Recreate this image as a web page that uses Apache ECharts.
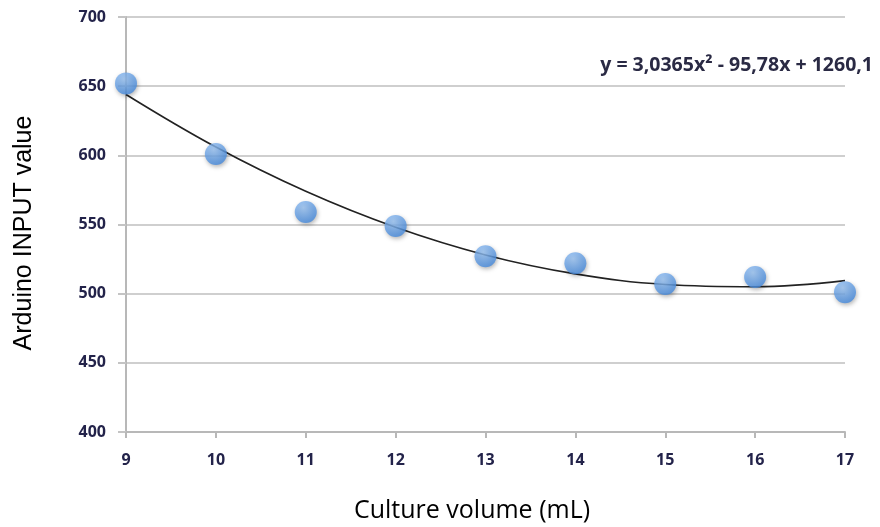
<!DOCTYPE html>
<html>
<head>
<meta charset="utf-8">
<script src="https://cdn.jsdelivr.net/npm/echarts@6/dist/echarts.min.js"></script>
<style>html,body{margin:0;padding:0;background:#fff;}#c{width:880px;height:527px;}</style>
</head>
<body>
<div id="c"></div>
<script>
var volumes = [9, 10, 11, 12, 13, 14, 15, 16, 17];
var readings = [652, 601, 559, 549, 527, 522, 507, 512, 501];
var trendValues = [644, 606, 574, 548, 528, 514.3, 506.6, 505, 509.4];
var equationText = 'y = 3,0365x\u00B2 - 95,78x + 1260,1';
var xTitle = 'Culture volume (mL)';
var yTitle = 'Arduino INPUT value';

var chart = echarts.init(document.getElementById('c'));
var tickColor = '#23234a';
chart.setOption({
  animation: false,
  backgroundColor: '#fff',
  grid: {left: 126, right: 35, top: 17, bottom: 95, outerBoundsMode: 'none', containLabel: false},
  xAxis: {
    type: 'value', min: 9, max: 17, interval: 1,
    axisLine: {show: true, lineStyle: {color: '#b8b8b8', width: 2}},
    axisTick: {show: true, length: 6, lineStyle: {color: '#b8b8b8', width: 2}},
    splitLine: {show: false},
    axisLabel: {margin: 20, fontFamily: 'Open Sans', fontWeight: 'bold', fontSize: 16, color: tickColor}
  },
  yAxis: {
    type: 'value', min: 400, max: 700, interval: 50,
    axisLine: {show: true, lineStyle: {color: '#b8b8b8', width: 2}},
    axisTick: {show: true, length: 8, lineStyle: {color: '#c4c4c4', width: 2}},
    splitLine: {show: true, lineStyle: {color: '#cfcfcf', width: 2}},
    axisLabel: {margin: 20, fontFamily: 'Open Sans', fontWeight: 'bold', fontSize: 16, color: tickColor}
  },
  graphic: [{
    type: 'text', right: 7, top: 55,
    style: {text: equationText, font: 'bold 19.5px "Open Sans"', fill: '#2a2a44'}
  }, {
    type: 'text', x: 472, y: 511,
    style: {text: xTitle, font: '25px "Open Sans"', fill: '#000', textAlign: 'center', textVerticalAlign: 'middle'}
  }, {
    type: 'text', x: 24, y: 233, rotation: Math.PI / 2,
    style: {text: yTitle, font: '25px "Liberation Sans"', fill: '#000', textAlign: 'center', textVerticalAlign: 'middle'}
  }],
  series: [{
    type: 'line', smooth: 0.4, symbol: 'none',
    data: volumes.map(function (v, i) { return [v, trendValues[i]]; }),
    lineStyle: {color: '#222', width: 1.6}, z: 2
  }, {
    type: 'scatter', symbolSize: 22,
    data: volumes.map(function (v, i) { return [v, readings[i]]; }),
    itemStyle: {
      color: new echarts.graphic.RadialGradient(0.4, 0.3, 0.8, [
        {offset: 0, color: '#9ac4f4'},
        {offset: 1, color: '#3a82da'}
      ]),
      shadowColor: 'rgba(0,0,0,0.35)', shadowBlur: 4, shadowOffsetX: 1, shadowOffsetY: 2
    },
    z: 3
  }]
});
</script>
</body>
</html>
